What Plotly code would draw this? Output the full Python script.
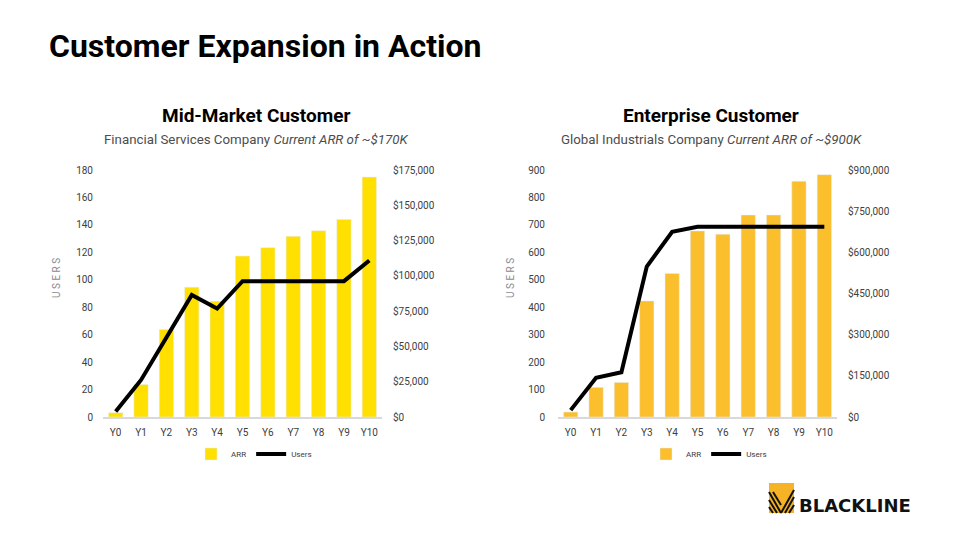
import plotly.graph_objects as go

years = ["Y0", "Y1", "Y2", "Y3", "Y4", "Y5", "Y6", "Y7", "Y8", "Y9", "Y10"]

mid_arr = [3000, 23000, 62000, 92000, 82000, 114000, 120000, 128000, 132000, 140000, 170000]
mid_users = [4, 27, 58, 89, 79, 99, 99, 99, 99, 99, 114]

ent_arr = [18000, 108000, 126000, 423000, 523000, 678000, 666000, 736000, 736000, 859000, 883000]
ent_users = [25, 143, 163, 548, 675, 693, 693, 693, 693, 693, 693]

mid_users_ticks = list(range(0, 181, 20))
mid_arr_ticks = list(range(0, 175001, 25000))
ent_users_ticks = list(range(0, 901, 100))
ent_arr_ticks = list(range(0, 900001, 150000))

W, H = 960, 540
FONT = "Roboto"
TICK_COLOR = "#404040"


def px(x):
    return x / W


def py(y):
    return (H - y) / H


ydom = [py(417), py(170)]
xdom_l = [px(103), px(382)]
xdom_r = [px(558), px(837)]

fig = go.Figure()

fig.add_trace(go.Bar(x=years, y=mid_arr, name="ARR", marker_color="#FFE000",
                     xaxis="x", yaxis="y", legend="legend"))
fig.add_trace(go.Scatter(x=years, y=mid_users, name="Users", mode="lines",
                         line=dict(color="#000000", width=4),
                         xaxis="x", yaxis="y2", legend="legend"))
fig.add_trace(go.Bar(x=years, y=ent_arr, name="ARR", marker_color="#FBBF2E",
                     xaxis="x2", yaxis="y3", legend="legend2"))
fig.add_trace(go.Scatter(x=years, y=ent_users, name="Users", mode="lines",
                         line=dict(color="#000000", width=4),
                         xaxis="x2", yaxis="y4", legend="legend2"))

tickfont = dict(family=FONT, size=10, color=TICK_COLOR)

xcommon = dict(showgrid=False, zeroline=False, showline=True, linecolor="#d9d9d9",
               linewidth=1.5, tickfont=tickfont, ticks="", fixedrange=True, automargin=False,
               ticklabelstandoff=5)
ycommon = dict(showgrid=False, zeroline=False, showline=False, tickfont=tickfont,
               ticks="", fixedrange=True, automargin=False)

legfont = dict(family=FONT, size=8, color="#404040")

fig.update_layout(
    width=W, height=H,
    margin=dict(l=0, r=0, t=0, b=0, autoexpand=False),
    paper_bgcolor="white", plot_bgcolor="white",
    font=dict(family=FONT),
    bargap=0.437,
    showlegend=True,
    xaxis=dict(domain=xdom_l, anchor="y", **xcommon),
    yaxis=dict(domain=ydom, anchor="x", side="right", range=[0, 175000],
               tickvals=mid_arr_ticks, tickformat="$,.0f",
               ticklabelstandoff=10, **ycommon),
    yaxis2=dict(overlaying="y", anchor="x", side="left", range=[0, 180],
                tickvals=mid_users_ticks, ticklabelstandoff=9, **ycommon),
    xaxis2=dict(domain=xdom_r, anchor="y3", **xcommon),
    yaxis3=dict(domain=ydom, anchor="x2", side="right", range=[0, 900000],
                tickvals=ent_arr_ticks, tickformat="$,.0f",
                ticklabelstandoff=10, **ycommon),
    yaxis4=dict(overlaying="y3", anchor="x2", side="left", range=[0, 900],
                tickvals=ent_users_ticks, ticklabelstandoff=12, **ycommon),
    legend=dict(orientation="h", x=px(191), xanchor="left", y=py(454), yanchor="middle",
                font=legfont, traceorder="normal", bgcolor="rgba(0,0,0,0)",
                itemwidth=30),
    legend2=dict(orientation="h", x=px(646), xanchor="left", y=py(454), yanchor="middle",
                 font=legfont, traceorder="normal", bgcolor="rgba(0,0,0,0)",
                 itemwidth=30),
)

ann = []


def add_ann(**kw):
    kw.setdefault("xref", "paper")
    kw.setdefault("yref", "paper")
    kw.setdefault("showarrow", False)
    ann.append(kw)


add_ann(text="<b>Customer Expansion in Action</b>", x=px(47), y=py(46),
        xanchor="left", yanchor="middle",
        font=dict(family=FONT, size=32, color="#000000"))
for cx, head, sub in [(256, "Mid-Market Customer", "Financial Services Company <i>Current ARR of ~$170K</i>"),
                      (711, "Enterprise Customer", "Global Industrials Company <i>Current ARR of ~$900K</i>")]:
    add_ann(text=f"<b>{head}</b>", x=px(cx), y=py(116), xanchor="center", yanchor="middle",
            font=dict(family=FONT, size=19, color="#000000"))
    add_ann(text=sub, x=px(cx), y=py(139), xanchor="center", yanchor="middle",
            font=dict(family=FONT, size=13.3, color="#4d4d4d"))
for ux in [56, 510]:
    add_ann(text="U S E R S", x=px(ux), y=py(278), xanchor="center", yanchor="middle",
            textangle=-90, font=dict(family=FONT, size=10, color="#8c8c8c"))
add_ann(text="<b>BLACKLINE</b>", x=px(797), y=py(505), xanchor="left", yanchor="middle",
        font=dict(family="DejaVu Sans", size=18, color="#111111"))
fig.update_layout(annotations=ann)

# Logo icon
shapes = [dict(type="rect", xref="paper", yref="paper", x0=px(769), x1=px(794),
               y0=py(513), y1=py(483), fillcolor="#F5B325", line=dict(width=0))]
logo_lines = [
    ((769, 492), (781, 513)), ((769, 500), (777, 513)), ((769, 507), (773, 513)),
    ((794, 490), (781, 513)), ((794, 497), (785, 513)), ((794, 505), (789, 513)),
    ((773, 492), (781, 505)),
]
for (x0, y0), (x1, y1) in logo_lines:
    shapes.append(dict(type="line", xref="paper", yref="paper", x0=px(x0), y0=py(y0),
                       x1=px(x1), y1=py(y1), line=dict(color="#111111", width=2)))
fig.update_layout(shapes=shapes)

fig.write_html("out.html", config={"displayModeBar": False},
               post_script="document.body.style.margin='0';")
